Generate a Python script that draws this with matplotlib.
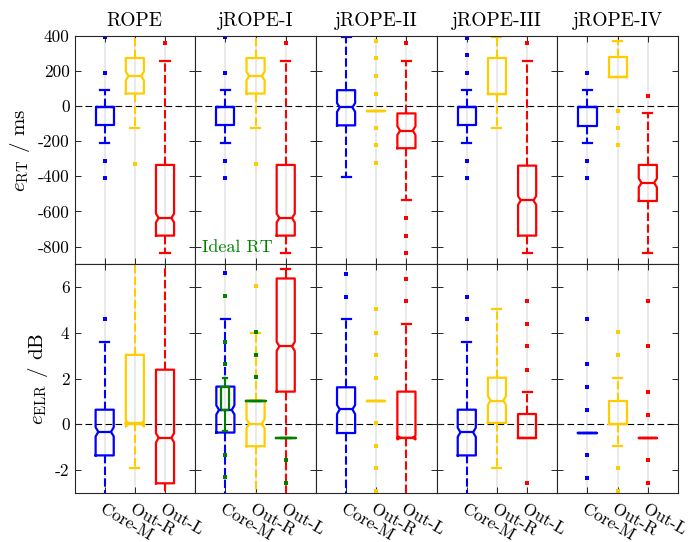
import matplotlib
matplotlib.use('Agg')
from matplotlib import pyplot as plt

plt.rcParams['font.family'] = 'serif'
plt.rcParams['font.serif'] = ['cmr10', 'DejaVu Serif']
plt.rcParams['mathtext.fontset'] = 'cm'
plt.rcParams['axes.unicode_minus'] = False
plt.rcParams['axes.formatter.use_mathtext'] = True

methods = ['ROPE', 'jROPE-I', 'jROPE-II', 'jROPE-III', 'jROPE-IV']
groups = ['Core-M', 'Out-R', 'Out-L']
colors = ['#0000ff', '#ffcc00', '#ff0000']
ideal_color = '#008000'

# reverberation time error, ms (rows = methods, cols = groups)
rt_q1 = [[-111, 70, -738], [-111, 70, -738], [-111, -28, -241], [-111, 66, -738], [-116, 166, -541]]
rt_med = [[-6, 170, -638], [-6, 170, -638], [-9, -28, -141], [-6, 66, -538], [-9, 166, -438]]
rt_q3 = [[-6, 272, -336], [-6, 272, -336], [89, -28, -43], [-6, 272, -340], [-9, 275, -336]]
rt_cilo = [[-6, 145, -663], [-6, 145, -663], [-34, -28, -166], [-6, 66, -563], [-9, 166, -463]]
rt_cihi = [[-6, 195, -613], [-6, 195, -613], [16, -28, -116], [-6, 66, -513], [-9, 166, -413]]
rt_lo = [[-209, -126, -838], [-209, -126, -838], [-407, -28, -538], [-209, -126, -838], [-209, 166, -838]]
rt_hi = [[88, 420, 256], [88, 420, 256], [389, -28, 256], [90, 389, 256], [90, 369, -43]]
rt_fliers = [
    [[390, 187, -311, -409], [-328], [357]],
    [[390, 187, -311, -409], [-328], [357]],
    [[], [370, 270, 172, 70, -128, -225, -324], [357, -638, -738, -838]],
    [[385, 287, 189, -311, -409], [], [357]],
    [[189, -311, -409], [-28, -128, -225], [57]],
]

# early-to-late reverberation ratio error, dB
elr_q1 = [[-1.36, 0.06, -2.58], [-0.36, -0.96, 1.43], [-0.38, 1.04, -0.59], [-1.36, 0.06, -0.59], [-0.36, 0.03, -0.58]]
elr_med = [[-0.33, 0.03, -0.59], [0.63, 0.03, 3.41], [0.65, 1.04, -0.59], [-0.35, 1.04, -0.59], [-0.36, 0.03, -0.58]]
elr_q3 = [[0.64, 3.04, 2.39], [1.65, 1.04, 6.38], [1.62, 1.04, 1.43], [0.64, 2.04, 0.45], [-0.36, 1.04, -0.58]]
elr_cilo = [[-0.53, -0.1, -0.79], [0.43, -0.17, 3.21], [0.45, 1.04, -0.66], [-0.55, 0.84, -0.59], [-0.36, 0.03, -0.58]]
elr_cihi = [[-0.13, 0.16, -0.39], [0.83, 0.23, 3.61], [0.85, 1.04, -0.5], [-0.15, 1.24, -0.59], [-0.36, 0.03, -0.58]]
elr_lo = [[-3.5, -1.93, -3.5], [-3.5, -3.5, -3.5], [-3.5, 1.04, -3.5], [-3.5, -1.93, -0.59], [-0.36, -0.93, -0.58]]
elr_hi = [[3.61, 7.5, 7.5], [4.62, 4.01, 6.8], [4.62, 1.04, 4.39], [3.61, 5.03, 1.41], [-0.36, 2.04, -0.58]]
elr_fliers = [
    [[4.61], [], []],
    [[6.6], [6.03], []],
    [[6.59, 5.59], [5.03, 4.01, 3.03, 2.03, 0.06, -0.93, -1.93, -2.91], [6.36, 5.38]],
    [[5.59, 4.61], [], [5.39, 4.38, 3.41, 2.39, -2.58]],
    [[4.61, 2.62, 1.64, 0.64, -1.35, -2.36], [4.03, 3.04, -1.93, -2.91], [5.39, 3.41, 1.41, 0.42, -1.58, -2.58]],
]

# ideal RT reference (green), shown in jROPE-I ELR panel
ideal_q1 = [0.61, 1.04, -0.58]
ideal_med = [0.61, 1.04, -0.58]
ideal_q3 = [1.62, 1.04, -0.58]
ideal_lo = [-0.29, 1.04, -0.58]
ideal_hi = [2.03, 1.04, -0.58]
ideal_fliers = [[5.6, 3.62, 2.64, -1.35, -2.32], [4.03, 3.04, 2.06], [-1.57, -2.55]]
ideal_widths = [0.26, 0.66, 0.66]

rt_ticks = [-800, -600, -400, -200, 0, 200, 400]
elr_ticks = [-2, 0, 2, 4, 6]

W, H = 697, 542
fig = plt.figure(figsize=(W / 100, H / 100), dpi=100)

x0, pw = 74.5, 120.7
tops = [35.5, 264.3]
ph = 228.6


def draw_box(ax, pos, s, color, width=0.6, notch=True, dashed=True):
    ls = (0, (4, 1.6)) if dashed else '-'
    art = ax.bxp([s], positions=[pos], widths=[width], capwidths=[width * 0.5],
                 shownotches=notch, showfliers=True, manage_ticks=False,
                 boxprops=dict(color=color, linewidth=1.6),
                 medianprops=dict(color=color, linewidth=1.6),
                 whiskerprops=dict(color=color, linewidth=1.5, linestyle=ls),
                 capprops=dict(color=color, linewidth=1.6),
                 flierprops=dict(marker='s', markersize=2.6, markerfacecolor=color,
                                 markeredgewidth=0, linestyle='none'))
    if notch:
        # shallower notch, like MATLAB
        nl, nr = pos - 0.35 * width, pos + 0.35 * width
        box = art['boxes'][0]
        xd = list(box.get_xdata())
        xd[3], xd[8] = nr, nl
        box.set_xdata(xd)
        art['medians'][0].set_xdata([nl, nr])


for row in range(2):
    for m in range(5):
        left = (x0 + m * pw) / W
        bottom = (H - tops[row] - ph) / H
        ax = fig.add_axes([left, bottom, pw / W, ph / H])
        for g in range(3):
            ax.axvline(g + 1, color='#e6e6e6', linewidth=1.2, zorder=0)
        ax.axhline(0, color='black', linewidth=0.8, dashes=(6, 3), zorder=1)

        for g in range(3):
            if row == 0:
                s = dict(q1=rt_q1[m][g], med=rt_med[m][g], q3=rt_q3[m][g],
                         cilo=rt_cilo[m][g], cihi=rt_cihi[m][g],
                         whislo=rt_lo[m][g], whishi=rt_hi[m][g], fliers=rt_fliers[m][g])
            else:
                s = dict(q1=elr_q1[m][g], med=elr_med[m][g], q3=elr_q3[m][g],
                         cilo=elr_cilo[m][g], cihi=elr_cihi[m][g],
                         whislo=elr_lo[m][g], whishi=elr_hi[m][g], fliers=elr_fliers[m][g])
            draw_box(ax, g + 1, s, colors[g])

        if row == 1 and m == 1:
            for g in range(3):
                s = dict(q1=ideal_q1[g], med=ideal_med[g], q3=ideal_q3[g],
                         whislo=ideal_lo[g], whishi=ideal_hi[g], fliers=ideal_fliers[g])
                draw_box(ax, g + 1, s, ideal_color, width=ideal_widths[g],
                         notch=False, dashed=False)

        ax.set_xlim(0, 4)
        ax.set_xticks([1, 2, 3])
        if row == 0:
            ax.set_ylim(-900, 400)
            ax.set_yticks(rt_ticks)
            ax.set_yticklabels([str(t) for t in rt_ticks])
            ax.set_title(methods[m], fontsize=14, pad=7)
            ax.set_xticklabels([])
        else:
            ax.set_ylim(-3, 7)
            ax.set_yticks(elr_ticks)
            ax.set_yticklabels([str(t) for t in elr_ticks])
            ax.set_xticklabels(groups, rotation=-30, ha='left', va='top',
                               rotation_mode='anchor', fontsize=12)
        if m > 0:
            ax.set_yticklabels([])
        ax.tick_params(direction='in', length=4, width=0.7, top=True, right=True,
                       labelsize=12.5, colors='#262626', labelcolor='black')
        ax.tick_params(axis='x', pad=6)
        for sp in ax.spines.values():
            sp.set_color('#262626')
            sp.set_linewidth(0.8)

        if row == 0 and m == 1:
            ax.text(0.06, 0.04, 'Ideal RT', transform=ax.transAxes, color=ideal_color,
                    fontsize=13, ha='left', va='bottom')
        if m == 0:
            if row == 0:
                ax.set_ylabel(r'$e_{\mathrm{RT}}$ / ms', fontsize=15, labelpad=4)
            else:
                ax.set_ylabel(r'$e_{\mathrm{ELR}}$ / dB', fontsize=15, labelpad=4)

plt.savefig('out.png', dpi=100)
